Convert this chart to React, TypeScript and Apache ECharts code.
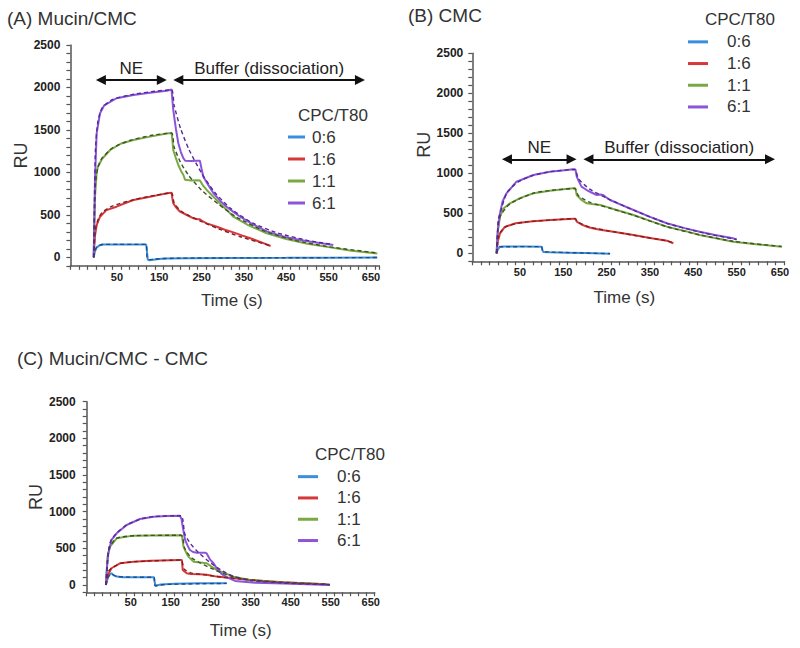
import React, { useEffect, useRef } from "react";
import * as echarts from "echarts";

const FONT = '"Liberation Sans", Arial, Helvetica, sans-serif';

const ratios = ["0:6", "1:6", "1:1", "6:1"];
const lineColors = ["#3b8ede", "#d8373a", "#7aa842", "#8c54d9"];
const fitColors = ["#1d4f86", "#7d1f1f", "#3a5426", "#54299a"];

const panelTitles = ["(A) Mucin/CMC", "(B) CMC", "(C) Mucin/CMC - CMC"];
const legendTitle = "CPC/T80";
const xName = "Time (s)";
const yName = "RU";
const xLabelValues = [50, 150, 250, 350, 450, 550, 650];
const yLabelValues = [0, 500, 1000, 1500, 2000, 2500];

// ---------- Panel A: Mucin/CMC ----------
const a06 = [[-5, 0], [-2, 70], [2, 115], [8, 138], [15, 150], [30, 152], [70, 152], [110, 152], [119, 150], [121, 60], [123, -30], [128, -35], [140, -25], [160, -15], [220, -10], [320, -8], [450, -6], [550, -4], [665, -2]];
const a16 = [[-5, 0], [-2, 250], [2, 380], [10, 478], [25, 555], [49, 596], [70, 640], [89, 675], [128, 714], [150, 735], [168, 754], [179, 760], [181, 690], [183, 636], [190, 585], [199, 537], [215, 498], [231, 459], [240, 448], [246, 447], [252, 425], [262, 400], [286, 360], [305, 325], [325, 294], [345, 258], [365, 224], [390, 178], [413, 133]];
const a11 = [[-5, 0], [-2, 700], [2, 1000], [5, 1067], [15, 1160], [34, 1264], [60, 1340], [89, 1382], [128, 1421], [168, 1458], [179, 1465], [181, 1380], [183, 1264], [189, 1170], [195, 1087], [201, 1020], [207, 969], [211, 912], [225, 905], [240, 908], [246, 905], [254, 840], [262, 793], [278, 712], [293, 636], [310, 555], [325, 478], [360, 380], [400, 290], [450, 215], [500, 160], [550, 120], [600, 80], [665, 45]];
const a61 = [[-5, 0], [-2, 900], [2, 1460], [10, 1696], [20, 1790], [49, 1873], [89, 1912], [128, 1939], [168, 1962], [179, 1975], [181, 1850], [183, 1735], [189, 1520], [195, 1343], [201, 1240], [207, 1166], [211, 1138], [225, 1135], [240, 1138], [246, 1136], [250, 1040], [254, 949], [266, 850], [278, 754], [293, 670], [309, 596], [325, 535], [341, 478], [370, 390], [404, 305], [450, 235], [500, 190], [561, 145]];
const a06Fit = [[-5, 0], [-2, 80], [3, 125], [12, 148], [30, 152], [119, 152], [121, 0], [125, -30], [140, -20], [200, -10], [400, -6], [665, -3]];
const a16Fit = [[-5, 0], [-1, 330], [5, 440], [15, 530], [40, 605], [90, 680], [140, 730], [179, 758], [185, 640], [200, 550], [220, 490], [250, 420], [290, 335], [340, 245], [410, 140]];
const a11Fit = [[-5, 0], [-1, 850], [5, 1060], [15, 1170], [40, 1290], [80, 1375], [130, 1435], [179, 1463], [185, 1300], [200, 1120], [220, 960], [250, 790], [290, 625], [330, 480], [400, 305], [470, 200], [550, 125], [665, 50]];
const a61Fit = [[-5, 0], [-1, 1250], [5, 1600], [15, 1760], [40, 1860], [90, 1920], [140, 1955], [179, 1973], [185, 1790], [200, 1520], [220, 1270], [250, 990], [280, 770], [320, 570], [370, 405], [430, 285], [500, 200], [561, 150]];

// ---------- Panel B: CMC ----------
const b06 = [[-4, 0], [-1, 50], [4, 83], [15, 85], [60, 84], [100, 83], [102, 40], [104, 15], [120, 12], [158, 8], [200, 3], [258, -5]];
const b16 = [[-4, 0], [-1, 150], [4, 250], [15, 330], [40, 375], [80, 400], [120, 415], [173, 433], [178, 433], [181, 395], [192, 360], [204, 333], [220, 310], [235, 295], [250, 282], [273, 262], [312, 229], [350, 190], [389, 158], [404, 125]];
const b11 = [[-4, 0], [-1, 280], [4, 458], [12, 560], [27, 625], [50, 690], [81, 750], [119, 783], [150, 800], [173, 812], [178, 812], [181, 729], [186, 700], [192, 666], [204, 625], [220, 612], [235, 604], [250, 580], [273, 541], [312, 479], [350, 405], [389, 333], [430, 280], [465, 229], [500, 190], [542, 145], [600, 110], [654, 83]];
const b61 = [[-4, 0], [-1, 300], [4, 500], [10, 650], [19, 750], [42, 895], [81, 979], [119, 1020], [158, 1041], [173, 1050], [178, 1048], [181, 958], [186, 900], [192, 833], [204, 791], [215, 760], [227, 729], [235, 735], [242, 729], [250, 695], [258, 666], [280, 615], [312, 541], [350, 455], [389, 375], [430, 315], [465, 270], [500, 230], [542, 187], [550, 172]];
const b06Fit = [[-4, 0], [-1, 55], [4, 82], [100, 83], [102, 30], [110, 18], [180, 6], [258, -4]];
const b16Fit = [[-4, 0], [0, 200], [5, 265], [20, 340], [60, 390], [120, 415], [176, 433], [185, 385], [210, 330], [250, 285], [312, 226], [389, 156], [404, 128]];
const b11Fit = [[-4, 0], [0, 380], [5, 470], [27, 620], [80, 750], [120, 785], [176, 810], [185, 720], [210, 640], [260, 560], [312, 475], [389, 332], [465, 230], [542, 150], [654, 85]];
const b61Fit = [[-4, 0], [0, 420], [5, 520], [20, 760], [45, 890], [80, 975], [120, 1020], [176, 1048], [185, 930], [210, 805], [250, 690], [312, 540], [389, 375], [465, 265], [550, 172]];

// ---------- Panel C: Mucin/CMC - CMC ----------
const c06 = [[-12, 0], [-8, 80], [-4, 140], [2, 160], [8, 130], [15, 114], [32, 105], [70, 105], [108, 105], [110, 40], [112, -10], [125, 5], [160, 15], [220, 22], [290, 25]];
const c16 = [[-12, 0], [-9, 114], [2, 228], [23, 296], [57, 318], [100, 330], [150, 338], [173, 341], [178, 340], [180, 205], [190, 160], [200, 150], [223, 146], [240, 140], [265, 114], [307, 91], [348, 68], [432, 36], [540, 10]];
const c11 = [[-12, 0], [-8, 380], [-2, 523], [15, 637], [57, 673], [100, 676], [173, 678], [178, 676], [182, 523], [188, 450], [194, 387], [207, 318], [225, 305], [240, 296], [252, 250], [265, 205], [285, 160], [307, 114], [348, 68], [432, 32], [548, 5]];
const c61 = [[-12, 0], [-9, 250], [-6, 432], [2, 614], [15, 705], [40, 818], [73, 900], [107, 932], [140, 940], [173, 945], [177, 900], [180, 795], [186, 614], [192, 540], [198, 477], [206, 450], [215, 440], [236, 440], [240, 430], [248, 350], [257, 296], [265, 230], [277, 150], [292, 100], [311, 55], [361, 30], [432, 20], [548, 0]];
const c06Fit = [[-12, 0], [-6, 110], [2, 150], [15, 115], [60, 106], [108, 105], [111, -10], [140, 8], [290, 22]];
const c16Fit = [[-12, 0], [-6, 180], [2, 230], [25, 295], [60, 318], [176, 340], [183, 220], [200, 165], [240, 135], [280, 105], [320, 85], [400, 45], [540, 10]];
const c11Fit = [[-12, 0], [-6, 450], [0, 540], [15, 640], [60, 672], [176, 678], [185, 500], [200, 380], [220, 310], [250, 230], [280, 160], [310, 110], [350, 70], [430, 32], [548, 5]];
const c61Fit = [[-12, 0], [-6, 450], [0, 600], [15, 710], [40, 820], [75, 900], [110, 935], [176, 945], [185, 700], [200, 560], [220, 440], [250, 300], [280, 190], [310, 110], [350, 60], [430, 28], [548, 3]];

// Arrow annotations (data coordinates)
const arrowsA = [
  { text: "NE", from: 12, to: 156, ru: 2088 },
  { text: "Buffer (dissociation)", from: 195, to: 624, ru: 2088 },
];
const arrowsB = [
  { text: "NE", from: 20, to: 169, ru: 1175 },
  { text: "Buffer (dissociation)", from: 208, to: 627, ru: 1175 },
];

const panels = [
  {
    solid: [a06, a16, a11, a61],
    fit: [a06Fit, a16Fit, a11Fit, a61Fit],
    arrows: arrowsA,
    grid: { left: 70.4, top: 45, width: 309, height: 220.8 },
    xMin: -60, xMax: 670,
    xNameGap: 26, xNamePad: [0, 0, 0, 14],
    yNameGap: 34.5, yNamePad: [0, 0, 0, 0],
    xLabelMargin: 6, yLabelMargin: 10,
  },
  {
    solid: [b06, b16, b11, b61],
    fit: [b06Fit, b16Fit, b11Fit, b61Fit],
    arrows: arrowsB,
    grid: { left: 472.3, top: 53.3, width: 312, height: 208 },
    xMin: -60, xMax: 660,
    xNameGap: 28, xNamePad: [0, 8, 0, 0],
    yNameGap: 36, yNamePad: [0, 0, 0, 25],
    xLabelMargin: 5, yLabelMargin: 9,
  },
  {
    solid: [c06, c16, c11, c61],
    fit: [c06Fit, c16Fit, c11Fit, c61Fit],
    arrows: [],
    grid: { left: 86.7, top: 401.7, width: 288, height: 190.6 },
    xMin: -60, xMax: 660,
    xNameGap: 30, xNamePad: [0, 0, 0, 20],
    yNameGap: 40, yNamePad: [0, 0, 0, 0],
    xLabelMargin: 4, yLabelMargin: 11,
  },
];

const legendPos = [
  { left: 288, top: 126, itemWidth: 17, pad: 2, gap: 22 },
  { left: 688, top: 31, itemWidth: 20, pad: 14, gap: 21.7 },
  { left: 298, top: 466, itemWidth: 20, pad: 14, gap: 21.3 },
];
const titlePos = [
  { left: 7, top: 9 },
  { left: 408, top: 6 },
  { left: 17, top: 349 },
];
const legendTitlePos = [
  { left: 298, top: 107 },
  { left: 705, top: 11 },
  { left: 315, top: 446 },
];

function buildOption() {
  const grid: any[] = [];
  const xAxis: any[] = [];
  const yAxis: any[] = [];
  const series: any[] = [];
  const axisColor = "#555";

  panels.forEach((p, i) => {
    grid.push({ ...p.grid, containLabel: false });
    xAxis.push({
      type: "value",
      gridIndex: i,
      min: p.xMin,
      max: p.xMax,
      interval: 20,
      name: xName,
      nameLocation: "middle",
      nameGap: p.xNameGap,
      nameTextStyle: { fontSize: 17, color: "#333", fontFamily: FONT, padding: p.xNamePad },
      axisLine: { show: true, onZero: false, lineStyle: { color: axisColor, width: 1.5 } },
      axisTick: { show: true, inside: false, length: 4, lineStyle: { color: axisColor, width: 1.2 } },
      axisLabel: {
        customValues: xLabelValues,
        formatter: (v: number) => String(v),
        margin: p.xLabelMargin,
        fontSize: 11,
        fontWeight: "bold",
        color: "#222",
        fontFamily: FONT,
      },
      splitLine: { show: false },
    });
    yAxis.push({
      type: "value",
      gridIndex: i,
      min: -100,
      max: 2500,
      interval: 100,
      name: yName,
      nameLocation: "middle",
      nameRotate: 90,
      nameGap: p.yNameGap,
      nameTextStyle: { fontSize: 18, color: "#333", fontFamily: FONT, padding: p.yNamePad },
      axisLine: { show: true, onZero: false, lineStyle: { color: axisColor, width: 1.5 } },
      axisTick: { show: true, inside: false, length: 4, lineStyle: { color: axisColor, width: 1.2 } },
      axisLabel: {
        customValues: yLabelValues,
        formatter: (v: number) => String(v),
        margin: p.yLabelMargin,
        fontSize: 12,
        fontWeight: "bold",
        color: "#222",
        fontFamily: FONT,
      },
      splitLine: { show: false },
    });

    p.solid.forEach((data, k) => {
      const s: any = {
        type: "line",
        name: ratios[k],
        xAxisIndex: i,
        yAxisIndex: i,
        data,
        showSymbol: false,
        symbol: "none",
        lineStyle: { width: 2, color: lineColors[k] },
        itemStyle: { color: lineColors[k] },
        z: 2,
      };
      if (k === 3 && p.arrows.length) {
        s.markLine = {
          silent: true,
          symbol: ["triangle", "triangle"],
          symbolSize: 10,
          lineStyle: { type: "solid", color: "#111", width: 2 },
          label: {
            show: true,
            position: "middle",
            formatter: "{b}",
            fontSize: 17,
            color: "#222",
            fontFamily: FONT,
            distance: 3,
          },
          emphasis: { disabled: true },
          data: p.arrows.map((a) => [
            { name: a.text, coord: [a.from, a.ru] },
            { coord: [a.to, a.ru] },
          ]),
        };
      }
      series.push(s);
    });
    p.fit.forEach((data, k) => {
      series.push({
        type: "line",
        name: ratios[k] + " fit",
        xAxisIndex: i,
        yAxisIndex: i,
        data,
        showSymbol: false,
        symbol: "none",
        smooth: 0.2,
        lineStyle: { width: 1.4, color: fitColors[k], type: [4, 3] },
        itemStyle: { color: fitColors[k] },
        z: 3,
      });
    });
  });

  const title: any[] = [];
  panelTitles.forEach((t, i) => {
    title.push({
      text: t,
      left: titlePos[i].left,
      top: titlePos[i].top,
      padding: 0,
      textStyle: { fontSize: 19, fontWeight: "normal", color: "#333", fontFamily: FONT },
    });
    title.push({
      text: legendTitle,
      left: legendTitlePos[i].left,
      top: legendTitlePos[i].top,
      padding: 0,
      textStyle: { fontSize: 17, fontWeight: "normal", color: "#333", fontFamily: FONT },
    });
  });

  const legend = legendPos.map((l) => ({
    data: ratios,
    orient: "vertical",
    left: l.left,
    top: l.top,
    padding: 0,
    icon: "rect",
    itemWidth: l.itemWidth,
    itemHeight: 3,
    itemGap: 0,
    textStyle: {
      fontSize: 17,
      lineHeight: l.gap,
      color: "#333",
      fontFamily: FONT,
      padding: [0, 0, 0, l.pad],
    },
  }));

  return {
    animation: false,
    backgroundColor: "#ffffff",
    textStyle: { fontFamily: FONT },
    title,
    legend,
    grid,
    xAxis,
    yAxis,
    series,
  };
}

export default function App() {
  const ref = useRef<HTMLDivElement | null>(null);
  useEffect(() => {
    if (!ref.current) return;
    const chart = echarts.init(ref.current, undefined, { renderer: "svg" });
    chart.setOption(buildOption() as any);
    return () => chart.dispose();
  }, []);
  return (
    <div
      ref={ref}
      style={{ position: "absolute", left: 0, top: 0, width: 800, height: 648, background: "#fff" }}
    />
  );
}
